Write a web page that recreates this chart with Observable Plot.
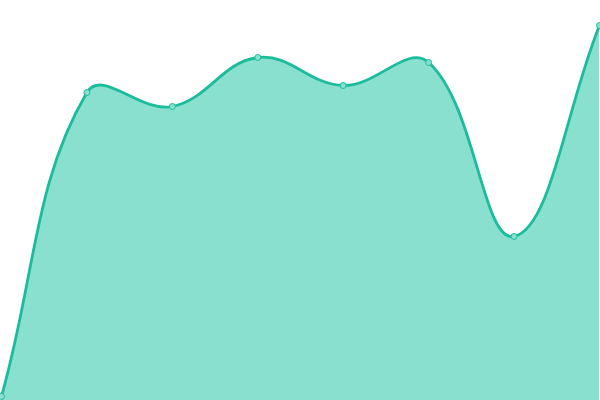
<!DOCTYPE html>
<html>
<head>
<meta charset="utf-8">
<script src="https://cdn.jsdelivr.net/npm/d3@7"></script>
<script src="https://cdn.jsdelivr.net/npm/@observablehq/plot@0.6"></script>
<style>
  html, body { margin: 0; padding: 0; background: #fff; }
  svg { display: block; }
</style>
</head>
<body>
<div id="chart"></div>
<script>
const labels = [0, 1, 2, 3, 4, 5, 6, 7];
const values = [4, 308, 294, 343, 315, 338, 164, 375];

const data = labels.map((l, i) => ({ x: l, y: values[i] }));

// Spline curve with tension 0.4 (distance-weighted control points)
class SplineCurve {
  constructor(context) { this._context = context; this._t = 0.4; }
  areaStart() { this._line = 0; }
  areaEnd() { this._line = NaN; }
  lineStart() { this._pts = []; }
  point(x, y) { this._pts.push([+x, +y]); }
  lineEnd() {
    const p = this._pts, n = p.length, c = this._context, t = this._t;
    if (n) {
      if (this._line) c.lineTo(p[0][0], p[0][1]); else c.moveTo(p[0][0], p[0][1]);
    }
    const prevC = [], nextC = [];
    for (let i = 0; i < n; i++) {
      const cur = p[i], prev = p[i - 1] || cur, next = p[i + 1] || cur;
      const d01 = Math.hypot(cur[0] - prev[0], cur[1] - prev[1]);
      const d12 = Math.hypot(next[0] - cur[0], next[1] - cur[1]);
      let s01 = d01 / (d01 + d12), s12 = d12 / (d01 + d12);
      if (!isFinite(s01)) s01 = 0;
      if (!isFinite(s12)) s12 = 0;
      const fa = t * s01, fb = t * s12;
      prevC.push([cur[0] - fa * (next[0] - prev[0]), cur[1] - fa * (next[1] - prev[1])]);
      nextC.push([cur[0] + fb * (next[0] - prev[0]), cur[1] + fb * (next[1] - prev[1])]);
    }
    for (let i = 0; i < n - 1; i++) {
      c.bezierCurveTo(nextC[i][0], nextC[i][1], prevC[i + 1][0], prevC[i + 1][1], p[i + 1][0], p[i + 1][1]);
    }
    if (this._line || (this._line !== 0 && n === 1)) c.closePath();
    this._line = 1 - this._line;
  }
}
const spline = (context) => new SplineCurve(context);

const chart = Plot.plot({
  width: 600,
  height: 400,
  margin: 0,
  x: { domain: [0, 7], range: [1, 599], axis: null },
  y: { domain: [0, 400], range: [400, 0], axis: null },
  marks: [
    Plot.areaY(data, { x: "x", y: "y", y1: 0, fill: "#8ae0cf", curve: spline }),
    Plot.lineY(data, { x: "x", y: "y", stroke: "#1abc9c", strokeWidth: 2.8, curve: spline }),
    Plot.dot(data, { x: "x", y: "y", r: 3, fill: "#8ae0cf", stroke: "#1abc9c", strokeWidth: 1 })
  ]
});
document.getElementById("chart").appendChild(chart);
</script>
</body>
</html>
